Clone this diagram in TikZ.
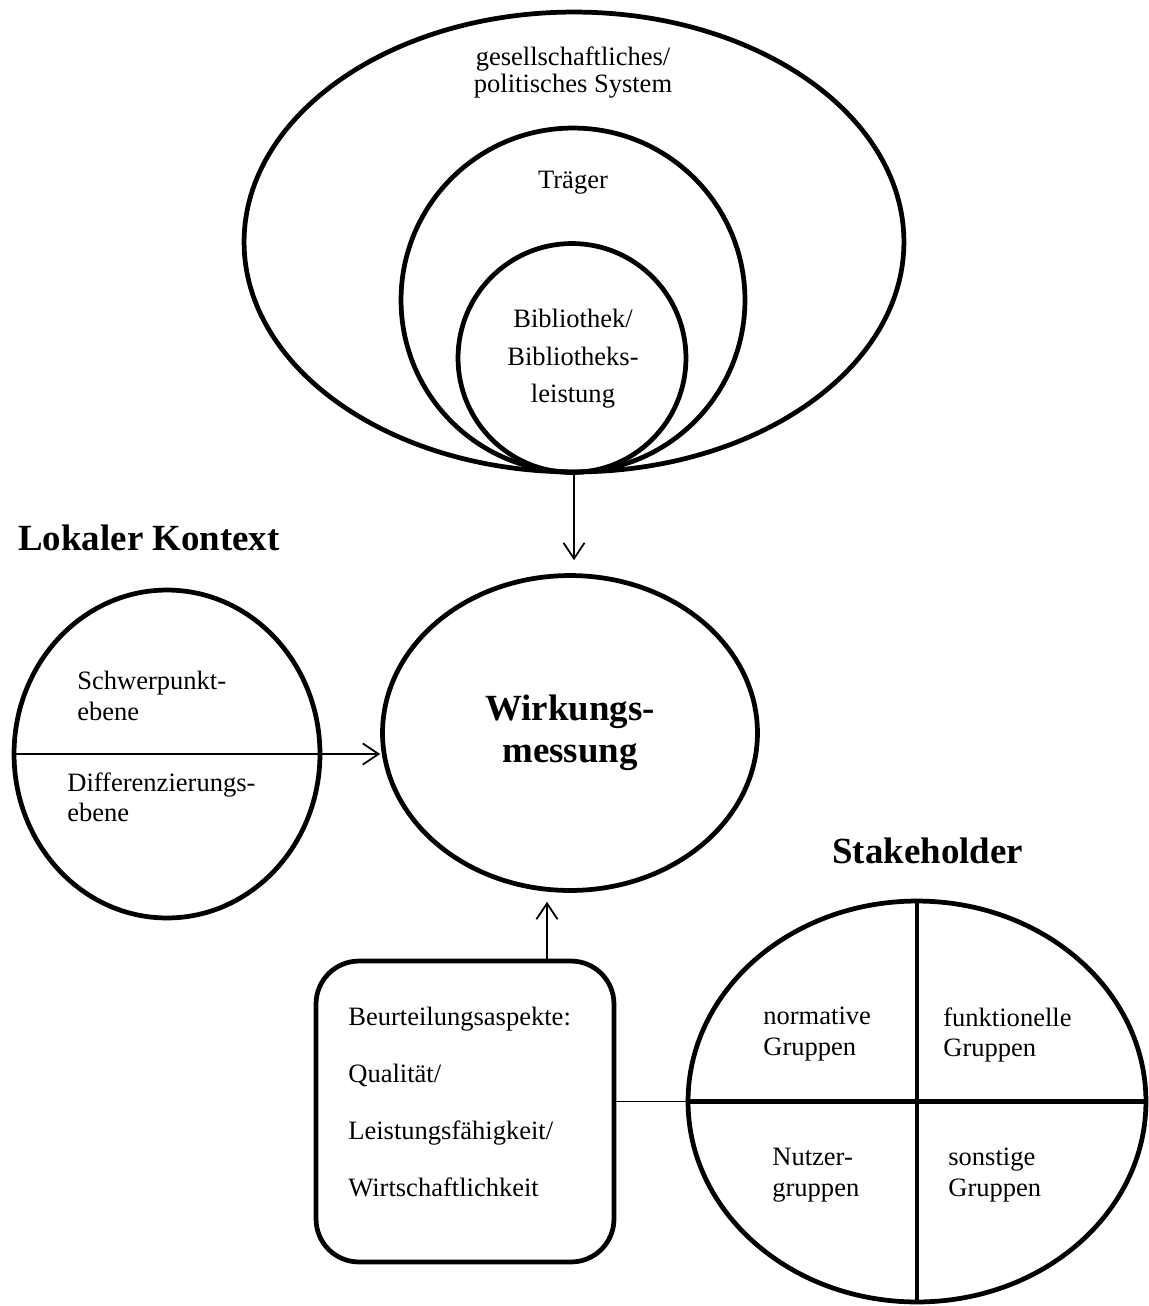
\documentclass[tikz,border=0pt]{standalone}
\usepackage{fontspec}
\setmainfont{Liberation Serif}
\usetikzlibrary{shapes.geometric,arrows.meta}
\tikzset{
  ring/.style={draw, ellipse, line width=2.7pt, inner sep=0pt},
  conn/.style={line width=1pt, -{Straight Barb[length=9pt,width=12pt]}},
  txt/.style={font=\fontsize{15.1}{17.6}\selectfont, inner sep=0pt, align=left},
  heading/.style={font=\fontsize{21}{24}\selectfont\bfseries, inner sep=0pt}
}
\begin{document}
\begin{tikzpicture}[x=0.02cm,y=-0.02cm]
\useasboundingbox (0,0) rectangle (1149,1306);
\node[ring, minimum width=13.2cm, minimum height=9.2cm] (sys) at (574,242) {};
\node[ring, minimum width=6.88cm, minimum height=6.88cm] (traeger) at (573,300) {};
\node[ring, minimum width=4.56cm, minimum height=4.58cm] (bib) at (572,358) {};
\node[txt, align=center, anchor=north, font=\fontsize{15.1}{15.4}\selectfont] (systxt) at (573,46) {gesellschaftliches/\\politisches System};
\node[txt, anchor=base] (traegertxt) at (573,188) {Träger};
\node[txt, align=center, anchor=north, font=\fontsize{15.1}{21.3}\selectfont] (bibtxt) at (573,309) {Bibliothek/\\Bibliotheks-\\leistung};

\node[ring, minimum width=7.5cm, minimum height=6.3cm, align=center,
  font=\fontsize{21}{23.9}\selectfont\bfseries] (wirk) at (570,733) {Wirkungs-\\messung};

\node[heading, anchor=base west] (lokal) at (18,550) {Lokaler Kontext};
\node[ring, minimum width=6.12cm, minimum height=6.56cm] (ctx) at (167,754) {};
\node[txt, anchor=north west] (schwer) at (77,671) {Schwerpunkt-\\ebene};
\node[txt, anchor=north west] (diff) at (67,772) {Differenzierungs-\\ebene};

\node[draw, line width=2.7pt, rounded corners=0.86cm, minimum width=5.96cm, minimum height=6.02cm] (aspekte) at (465,1111.5) {};
\node[txt, anchor=north west, font=\fontsize{15.1}{32.4}\selectfont] (aspekttxt) at (348,1007)
  {Beurteilungsaspekte:\\Qualität/\\Leistungsfähigkeit/\\Wirtschaftlichkeit};

\node[heading, anchor=base west] (stakehead) at (832,863) {Stakeholder};
\node[ring, minimum width=9.16cm, minimum height=8.02cm] (stake) at (917,1101.5) {};
\draw[line width=2.7pt] (stake.north) -- (stake.south);
\draw[line width=2.7pt] (stake.west) -- (stake.east);
\node[txt, anchor=north west] (normativ) at (763,1007) {normative\\Gruppen};
\node[txt, anchor=north west] (funktion) at (943,1007) {funktionelle\\Gruppen};
\node[txt, anchor=north west] (nutzer) at (772,1148) {Nutzer-\\gruppen};
\node[txt, anchor=north west] (sonstig) at (948,1148) {sonstige\\Gruppen};

\coordinate (aspekt-top) at ([xshift=1.64cm]aspekte.north);
\draw[conn, shorten >=0.26cm] (sys.south) -- (sys.south |- wirk.north);
\draw[conn] (ctx.west) -- (ctx.west -| wirk.west);
\draw[conn, shorten >=0.18cm] (aspekt-top) -- (aspekt-top |- wirk.south);
\draw[line width=1pt] (aspekte.east |- stake.west) -- (stake.west);
\end{tikzpicture}
\end{document}
